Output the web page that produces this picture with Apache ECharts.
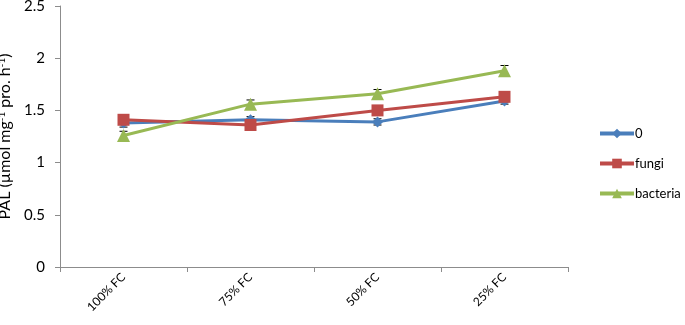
<!DOCTYPE html>
<html>
<head>
<meta charset="utf-8">
<script src="https://cdn.jsdelivr.net/npm/echarts@6/dist/echarts.min.js"></script>
<style>
  html, body { margin: 0; padding: 0; background: #fff; }
  #chart { width: 685px; height: 325px; }
</style>
</head>
<body>
<div id="chart"></div>
<script>
const categories = ["100% FC", "75% FC", "50% FC", "25% FC"];
const seriesNames = ["0", "fungi", "bacteria"];
const control = [1.38, 1.41, 1.39, 1.59];
const fungi = [1.41, 1.36, 1.50, 1.63];
const bacteria = [1.26, 1.56, 1.66, 1.88];
const controlErr = [0.04, 0.03, 0.03, 0.03];
const fungiErr = [0.03, 0.03, 0.03, 0.03];
const bacteriaErr = [0.04, 0.04, 0.04, 0.05];
const yTicks = [0, 0.5, 1, 1.5, 2, 2.5];

const colors = ["#4a7ebb", "#be4b48", "#98b954"];
const symbols = ["diamond", "rect", "triangle"];
const symbolSizes = [11, 12, 13];
const values = [control, fungi, bacteria];
const errors = [controlErr, fungiErr, bacteriaErr];

const font = "Lato, 'Open Sans', 'Liberation Sans', sans-serif";

function errorSeries(vals, errs) {
  return {
    type: "custom",
    silent: true,
    z: 1,
    data: vals.map((v, i) => [i, v - errs[i], v + errs[i]]),
    renderItem: (params, api) => {
      const lo = api.coord([api.value(0), api.value(1)]);
      const hi = api.coord([api.value(0), api.value(2)]);
      const w = 4;
      const st = { stroke: "#000", lineWidth: 1 };
      return {
        type: "group",
        children: [
          { type: "line", shape: { x1: lo[0], y1: lo[1], x2: hi[0], y2: hi[1] }, style: st },
          { type: "line", shape: { x1: lo[0] - w, y1: lo[1], x2: lo[0] + w, y2: lo[1] }, style: st },
          { type: "line", shape: { x1: hi[0] - w, y1: hi[1], x2: hi[0] + w, y2: hi[1] }, style: st },
        ],
      };
    },
  };
}

const series = [];
seriesNames.forEach((name, k) => {
  series.push(errorSeries(values[k], errors[k]));
});
seriesNames.forEach((name, k) => {
  series.push({
    name: name,
    type: "line",
    data: values[k],
    symbol: symbols[k],
    symbolSize: symbolSizes[k],
    z: 3 + k,
    lineStyle: { color: colors[k], width: 3 },
    itemStyle: { color: colors[k] },
  });
});

const chart = echarts.init(document.getElementById("chart"));
chart.setOption({
  animation: false,
  textStyle: { fontFamily: font },
  grid: { left: 60, right: 117, top: 6, bottom: 58, containLabel: false, outerBoundsMode: "none" },
  legend: {
    orient: "vertical",
    left: 593,
    top: 122,
    itemGap: 17,
    itemWidth: 34,
    itemHeight: 12,
    data: seriesNames,
    lineStyle: { width: 4 },
    textStyle: { fontSize: 13, color: "#000", fontFamily: font, padding: [0, 0, 0, -4] },
  },
  xAxis: {
    type: "category",
    data: categories,
    boundaryGap: true,
    axisLine: { lineStyle: { color: "#8c8c8c", width: 1 } },
    axisTick: { show: true, length: 5, lineStyle: { color: "#8c8c8c" } },
    axisLabel: { rotate: 45, fontSize: 12, color: "#000", margin: 8, fontFamily: font },
  },
  yAxis: {
    type: "value",
    min: 0,
    max: 2.5,
    interval: 0.5,
    splitLine: { show: false },
    axisLine: { show: true, lineStyle: { color: "#8c8c8c", width: 1 } },
    axisTick: { show: true, length: 5, lineStyle: { color: "#8c8c8c" } },
    axisLabel: {
      fontSize: 15,
      color: "#000",
      margin: 15,
      fontFamily: font,
      formatter: (v) => (yTicks.includes(v) ? String(v) : ""),
    },
    name: "{a|PAL (µmol mg}{s|-1}{a| pro. h}{s|-1}{a|)}",
    nameLocation: "middle",
    nameRotate: 90,
    nameGap: 40,
    nameTextStyle: {
      rich: {
        a: { fontSize: 16, color: "#000", fontFamily: font },
        s: { fontSize: 10, color: "#000", fontFamily: font, verticalAlign: "top", padding: [0, 0, 7, 0] },
      },
    },
  },
  series: series,
});
</script>
</body>
</html>
